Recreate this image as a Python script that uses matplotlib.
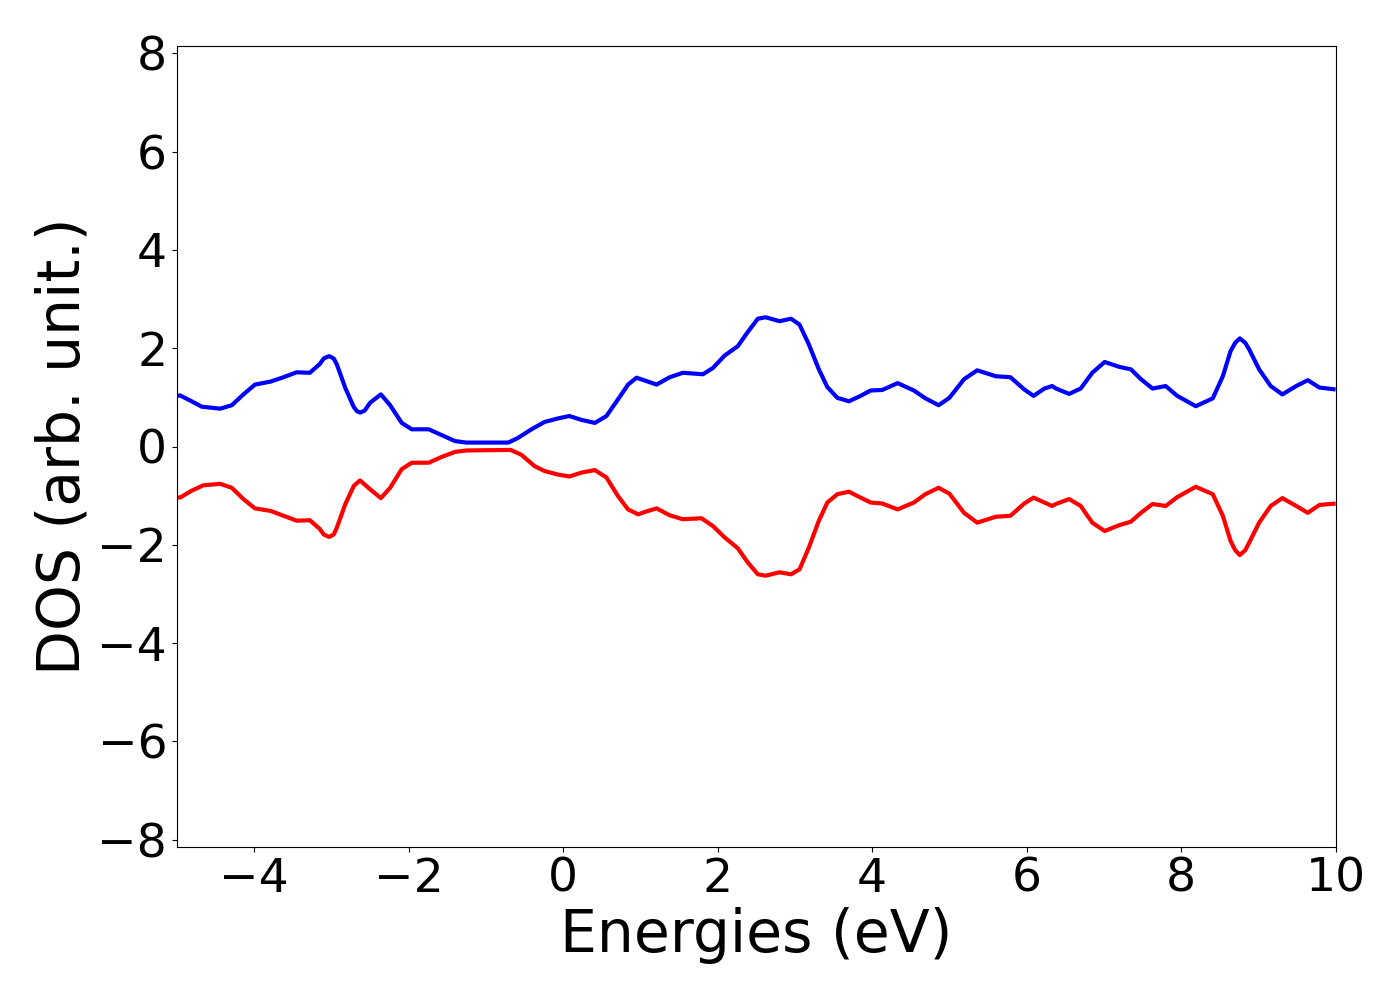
import matplotlib
matplotlib.use("Agg")
import matplotlib.pyplot as plt

# Spin-up DOS (blue)
up_energy = [-5.00, -4.96, -4.81, -4.68, -4.44, -4.29, -4.14, -3.99, -3.79, -3.62,
             -3.45, -3.28, -3.15, -3.10, -3.03, -2.97, -2.93, -2.82, -2.71, -2.67,
             -2.63, -2.57, -2.50, -2.36, -2.24, -2.09, -1.96, -1.74, -1.57, -1.40,
             -1.25, -0.71, -0.59, -0.41, -0.24, -0.07, 0.08, 0.24, 0.41, 0.56,
             0.71, 0.84, 0.95, 1.08, 1.21, 1.38, 1.55, 1.81, 1.94, 2.09,
             2.26, 2.39, 2.52, 2.62, 2.80, 2.95, 3.06, 3.18, 3.31, 3.42,
             3.55, 3.70, 3.85, 3.98, 4.13, 4.33, 4.54, 4.69, 4.86, 5.00,
             5.19, 5.36, 5.60, 5.79, 5.97, 6.09, 6.23, 6.33, 6.38, 6.55,
             6.70, 6.85, 7.01, 7.20, 7.35, 7.48, 7.63, 7.80, 7.95, 8.19,
             8.41, 8.54, 8.64, 8.70, 8.76, 8.83, 8.88, 9.01, 9.16, 9.31,
             9.49, 9.64, 9.79, 10.0]
up_dos = [1.03, 1.04, 0.92, 0.81, 0.77, 0.84, 1.06, 1.26, 1.32, 1.41,
          1.51, 1.50, 1.68, 1.79, 1.84, 1.79, 1.67, 1.19, 0.80, 0.72,
          0.69, 0.73, 0.89, 1.06, 0.84, 0.48, 0.35, 0.35, 0.23, 0.11,
          0.08, 0.08, 0.17, 0.35, 0.50, 0.57, 0.62, 0.54, 0.48, 0.62,
          0.96, 1.26, 1.40, 1.33, 1.26, 1.41, 1.50, 1.47, 1.60, 1.85,
          2.04, 2.33, 2.60, 2.63, 2.55, 2.60, 2.48, 2.08, 1.57, 1.21,
          0.99, 0.92, 1.03, 1.14, 1.15, 1.29, 1.14, 0.98, 0.84, 0.99,
          1.37, 1.55, 1.43, 1.41, 1.16, 1.03, 1.18, 1.23, 1.18, 1.07,
          1.18, 1.50, 1.72, 1.62, 1.57, 1.37, 1.18, 1.23, 1.03, 0.82,
          0.98, 1.43, 1.94, 2.11, 2.20, 2.11, 1.98, 1.57, 1.23, 1.06,
          1.23, 1.35, 1.20, 1.16]

# Spin-down DOS (red)
down_energy = [-5.00, -4.96, -4.81, -4.66, -4.44, -4.29, -4.14, -3.99, -3.79, -3.62,
               -3.45, -3.28, -3.15, -3.10, -3.03, -2.97, -2.93, -2.82, -2.71, -2.63,
               -2.50, -2.36, -2.24, -2.09, -1.96, -1.74, -1.57, -1.40, -1.25, -0.68,
               -0.54, -0.37, -0.24, -0.07, 0.08, 0.24, 0.41, 0.56, 0.71, 0.84,
               0.97, 1.08, 1.21, 1.38, 1.55, 1.79, 1.94, 2.09, 2.26, 2.39,
               2.52, 2.62, 2.80, 2.95, 3.06, 3.18, 3.31, 3.42, 3.55, 3.70,
               3.85, 3.98, 4.13, 4.33, 4.54, 4.69, 4.86, 5.00, 5.19, 5.36,
               5.60, 5.79, 5.97, 6.09, 6.23, 6.33, 6.38, 6.55, 6.70, 6.85,
               7.01, 7.20, 7.35, 7.48, 7.63, 7.80, 7.95, 8.19, 8.41, 8.54,
               8.64, 8.70, 8.76, 8.83, 8.88, 9.01, 9.16, 9.31, 9.49, 9.64,
               9.79, 10.0]
down_dos = [-1.03, -1.04, -0.90, -0.79, -0.76, -0.84, -1.07, -1.26, -1.31, -1.41,
            -1.51, -1.50, -1.68, -1.79, -1.84, -1.79, -1.65, -1.17, -0.80, -0.69,
            -0.87, -1.05, -0.84, -0.46, -0.33, -0.33, -0.21, -0.11, -0.08, -0.07,
            -0.17, -0.40, -0.50, -0.57, -0.61, -0.53, -0.48, -0.63, -1.01, -1.28,
            -1.38, -1.32, -1.26, -1.40, -1.48, -1.46, -1.62, -1.85, -2.07, -2.36,
            -2.60, -2.63, -2.56, -2.60, -2.50, -2.06, -1.51, -1.14, -0.97, -0.92,
            -1.04, -1.14, -1.16, -1.28, -1.14, -0.97, -0.84, -0.96, -1.35, -1.55,
            -1.43, -1.41, -1.16, -1.04, -1.14, -1.21, -1.17, -1.07, -1.21, -1.55,
            -1.72, -1.60, -1.53, -1.35, -1.17, -1.21, -1.03, -0.82, -0.97, -1.41,
            -1.92, -2.11, -2.21, -2.11, -1.96, -1.55, -1.21, -1.05, -1.21, -1.35,
            -1.19, -1.16]

x_ticks = [-4, -2, 0, 2, 4, 6, 8, 10]
y_ticks = [-8, -6, -4, -2, 0, 2, 4, 6, 8]

fig = plt.figure(figsize=(14, 10), dpi=100)
ax = fig.add_axes([0.1264, 0.153, 0.8276, 0.801])
ax.plot(up_energy, up_dos, color="blue", lw=3,
        solid_joinstyle="round", solid_capstyle="butt")
ax.plot(down_energy, down_dos, color="red", lw=3,
        solid_joinstyle="round", solid_capstyle="butt")
ax.set_xlim(-5, 10)
ax.set_ylim(-8.15, 8.15)
ax.set_xticks(x_ticks)
ax.set_yticks(y_ticks)
ax.tick_params(labelsize=34)
ax.set_xlabel("Energies (eV)", fontsize=42)
ax.set_ylabel("DOS (arb. unit.)", fontsize=42)
fig.savefig("out.png", dpi=100)
